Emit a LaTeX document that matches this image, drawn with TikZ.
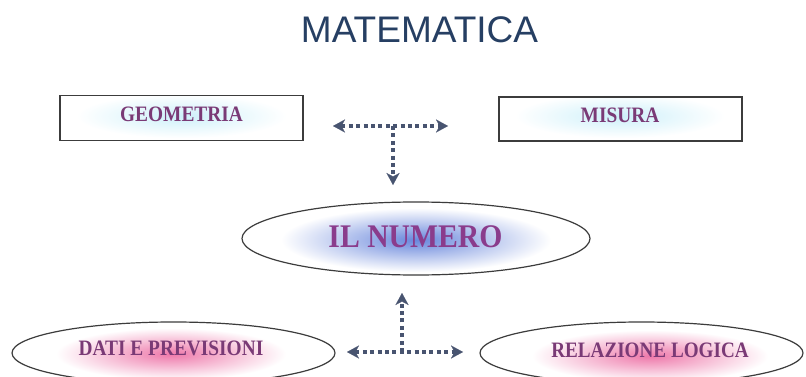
\documentclass[tikz,border=0pt]{standalone}
\usepackage{fontspec}
\setmainfont{Liberation Serif}
\newfontfamily\titlefont{Liberation Sans}
\usetikzlibrary{shapes.geometric,arrows.meta}
\definecolor{titlec}{RGB}{38,63,99}
\definecolor{txtc}{RGB}{122,58,118}
\definecolor{numc}{RGB}{138,60,140}
\definecolor{arrc}{RGB}{72,84,112}
\definecolor{linec}{RGB}{60,60,60}
\definecolor{blueglow}{RGB}{105,135,220}
\definecolor{pinkglow}{RGB}{238,120,170}
\definecolor{cyanglow}{RGB}{205,240,250}
\begin{document}
\begin{tikzpicture}[x=1pt,y=-1pt,
  box/.style={draw=linec, line width=1.4pt, rectangle, minimum width=243pt, minimum height=45pt, inner sep=0pt},
  oval/.style={draw=linec, line width=1.2pt, ellipse, inner sep=0pt},
  lbl/.style={font=\bfseries\fontsize{22}{22}\selectfont, text=txtc, inner sep=0pt, anchor=base},
  arr/.style={draw=arrc, line width=4pt, dash pattern=on 4pt off 3.4pt},
  >={Stealth[length=12pt,width=13pt,inset=3.5pt,line width=0.1pt]}
]
\useasboundingbox (0,0) rectangle (806,377);
\clip (0,0) rectangle (806,377);
\fill[white] (0,0) rectangle (806,377);

% glows
\shade[inner color=cyanglow, outer color=white] (181.5,116) ellipse (105pt and 22pt);
\shade[inner color=cyanglow, outer color=white] (620,116) ellipse (105pt and 22pt);
\shade[inner color=blueglow, outer color=white] (416,240) ellipse (135pt and 32pt);
\shade[inner color=pinkglow, outer color=white] (171,354) ellipse (115pt and 26pt);
\shade[inner color=pinkglow, outer color=white] (650,356) ellipse (118pt and 26pt);

% title
\node[font=\titlefont\fontsize{37}{37}\selectfont, text=titlec, anchor=base, inner sep=0pt] (title) at (419.5,43) {MATEMATICA};

% shapes
\node[box] (geo) at (181.5,118) {};
\node[box, minimum height=44pt] (mis) at (620.5,119) {};
\node[oval, minimum width=348pt, minimum height=73pt] (num) at (416,238.5) {};
\node[oval, minimum width=323pt, minimum height=62pt] (dat) at (173.5,353) {};
\node[oval, minimum width=323pt, minimum height=62pt] (rel) at (641.5,353) {};

% labels
\node[lbl] (geoT) at (181.5,122) {\scalebox{0.88}[1]{GEOMETRIA}};
\node[lbl] (misT) at (620,123) {\scalebox{0.88}[1]{MISURA}};
\node[lbl, font=\bfseries\fontsize{33}{33}\selectfont, text=numc] (numT) at (415.5,247) {\scalebox{0.9}[1]{IL NUMERO}};
\node[lbl] (datT) at (171,355) {\scalebox{0.88}[1]{DATI E PREVISIONI}};
\node[lbl] (relT) at (650,357) {\scalebox{0.87}[1]{RELAZIONE LOGICA}};

% top connector
\coordinate (tj) at (393,126);
\coordinate (tl) at (333,126);
\coordinate (tr) at (448,126);
\coordinate (tb) at (393,185);
\draw[arr,<->] (tl) -- (tr);
\draw[arr,->] (tj) -- (tb);

% bottom connector
\coordinate (bj) at (402,352);
\coordinate (bl) at (347,352);
\coordinate (br) at (463,352);
\coordinate (bt) at (402,293);
\draw[arr,<->] (bl) -- (br);
\draw[arr,->] (bj) -- (bt);
\end{tikzpicture}
\end{document}
